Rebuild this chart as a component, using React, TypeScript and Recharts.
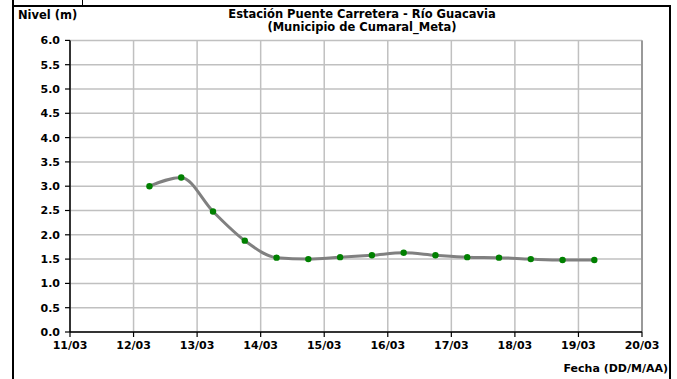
import { CartesianGrid, Line, LineChart, ReferenceLine, XAxis, YAxis } from "recharts";

// lecturas cada 12 horas (06:00 y 18:00)
const fechas = [
  "12/03 06:00",
  "12/03 18:00",
  "13/03 06:00",
  "13/03 18:00",
  "14/03 06:00",
  "14/03 18:00",
  "15/03 06:00",
  "15/03 18:00",
  "16/03 06:00",
  "16/03 18:00",
  "17/03 06:00",
  "17/03 18:00",
  "18/03 06:00",
  "18/03 18:00",
  "19/03 06:00",
];

const niveles = [3.0, 3.18, 2.48, 1.88, 1.53, 1.5, 1.54, 1.58, 1.63, 1.58, 1.54, 1.53, 1.5, 1.48, 1.48];

const etiquetasX = ["11/03", "12/03", "13/03", "14/03", "15/03", "16/03", "17/03", "18/03", "19/03", "20/03"];
const ticksY = [0, 0.5, 1, 1.5, 2, 2.5, 3, 3.5, 4, 4.5, 5, 5.5, 6];

const DIA_INICIAL = 11;

// "12/03 06:00" -> dias desde 11/03
const aDias = (f: string) => {
  const [fecha, hora] = f.split(" ");
  const dia = parseInt(fecha.split("/")[0], 10);
  const [h, m] = hora.split(":").map(Number);
  return dia - DIA_INICIAL + (h + m / 60) / 24;
};

const data = fechas.map((f, i) => ({ t: aDias(f), nivel: niveles[i] }));
const ticksX = etiquetasX.map((_, i) => i);

const FONT = "'DejaVu Sans', sans-serif";
const tickStyle = { fill: "#000", fontSize: 11, fontWeight: "bold", fontFamily: FONT };

export default function App() {
  return (
    <div
      style={{
        position: "absolute",
        left: 0,
        top: 0,
        width: 677,
        height: 379,
        overflow: "hidden",
        background: "#fff",
        fontFamily: FONT,
      }}
    >
      {/* marco de la tabla */}
      <div
        style={{
          position: "absolute",
          left: 12,
          top: 5,
          width: 655,
          height: 400,
          borderLeft: "2px solid #000",
          borderRight: "2px solid #000",
          borderTop: "2px solid #000",
        }}
      />
      <div style={{ position: "absolute", left: 12, top: 0, width: 2, height: 6, background: "#000" }} />
      <div style={{ position: "absolute", left: 82, top: 0, width: 1, height: 6, background: "#000" }} />

      <LineChart
        width={677}
        height={379}
        data={data}
        margin={{ top: 40.4, right: 35, bottom: 17, left: 30 }}
        style={{ position: "absolute", left: 0, top: 0 }}
      >
        <CartesianGrid stroke="#c0c0c0" strokeWidth={1.5} />
        <XAxis
          type="number"
          dataKey="t"
          domain={[0, 9]}
          ticks={ticksX}
          interval={0}
          tickFormatter={(v: number) => etiquetasX[v]}
          height={30}
          tickSize={5}
          tickMargin={4}
          tick={tickStyle}
          axisLine={{ stroke: "#000", strokeWidth: 1.5 }}
          tickLine={{ stroke: "#000", strokeWidth: 1.2 }}
        />
        <YAxis
          type="number"
          domain={[0, 6]}
          ticks={ticksY}
          interval={0}
          tickFormatter={(v: number) => v.toFixed(1)}
          width={40}
          tickSize={5}
          tickMargin={5}
          tick={tickStyle}
          axisLine={{ stroke: "#000", strokeWidth: 1.5 }}
          tickLine={{ stroke: "#000", strokeWidth: 1.2 }}
        />
        <ReferenceLine x={9} stroke="#999" strokeWidth={2} />
        <Line
          type="monotone"
          dataKey="nivel"
          stroke="#808080"
          strokeWidth={3}
          dot={{ r: 3.2, fill: "#008000", stroke: "none" }}
          activeDot={false}
          isAnimationActive={false}
        />
      </LineChart>

      <div
        style={{
          position: "absolute",
          left: 18,
          top: 9,
          fontSize: 11.5,
          fontWeight: "bold",
          lineHeight: "13px",
          whiteSpace: "nowrap",
        }}
      >
        Nivel (m)
      </div>
      <div
        style={{
          position: "absolute",
          left: 362,
          top: 8,
          transform: "translateX(-50%)",
          textAlign: "center",
          fontSize: 11.5,
          fontWeight: "bold",
          lineHeight: "13px",
          whiteSpace: "nowrap",
        }}
      >
        Estación Puente Carretera - Río Guacavia
        <br />
        (Municipio de Cumaral_Meta)
      </div>
      <div
        style={{
          position: "absolute",
          right: 9,
          top: 362,
          fontSize: 11,
          fontWeight: "bold",
          lineHeight: "13px",
          whiteSpace: "nowrap",
        }}
      >
        Fecha (DD/M/AA)
      </div>
    </div>
  );
}
